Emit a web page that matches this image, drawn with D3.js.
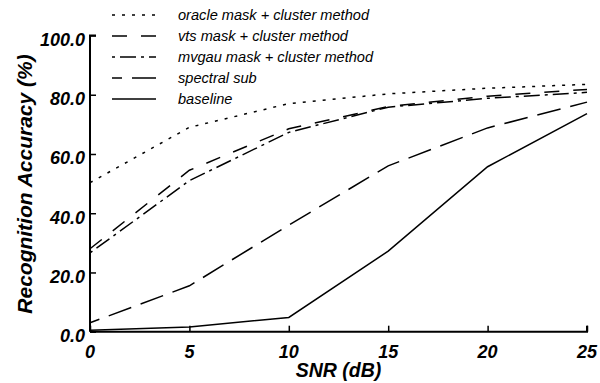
<!DOCTYPE html>
<meta charset="utf-8">
<head>
	<title>Recognition accuracy vs SNR</title>
	<script type="text/javascript" src="https://d3js.org/d3.v7.min.js"></script>
	<style>
		body { margin: 0; background: #fff; }
		.tick-label { font-family: "Liberation Sans", Arial, sans-serif; font-weight: bold; font-style: italic; font-size: 18px; fill: #000; }
		.axis-title { font-family: "Liberation Sans", Arial, sans-serif; font-weight: bold; font-style: italic; font-size: 19.5px; fill: #000; }
		.legend-label { font-family: "Liberation Sans", Arial, sans-serif; font-style: italic; font-size: 14.6px; fill: #000; }
	</style>
</head>
<body>
	<div id="chart"></div>
	<script>
		// data
		var snr = [0, 5, 10, 15, 20, 25];
		var oracle = [50.3, 69.0, 77.0, 80.3, 82.2, 83.5];
		var vts = [28.0, 54.5, 68.5, 76.0, 79.5, 81.8];
		var mvgau = [26.6, 51.0, 67.3, 75.8, 78.8, 80.8];
		var spectral = [3.0, 15.5, 36.0, 56.0, 68.8, 77.5];
		var baseline = [0.5, 1.6, 4.8, 27.2, 55.7, 73.6];
		var seriesNames = ["oracle mask + cluster method", "vts mask + cluster method", "mvgau mask + cluster method", "spectral sub", "baseline"];
		var yTicks = [0, 20, 40, 60, 80, 100];
		var xTicks = [0, 5, 10, 15, 20, 25];

		var width = 600, height = 383;
		var svg = d3.select("#chart").append("svg")
			.attr("width", width).attr("height", height);

		var x = d3.scaleLinear().domain([0, 25]).range([90, 587]);
		var y = d3.scaleLinear().domain([0, 100]).range([331.7, 35.5]);

		var dashes = ["3,7", "15,14", "3,5,16,5", "24,10", null];
		var offsets = [0, 0, 0, 14, 0];
		var series = [oracle, vts, mvgau, spectral, baseline];

		var line = d3.line()
			.x(function (d, i) { return x(snr[i]); })
			.y(function (d) { return y(d); });

		// data lines
		series.forEach(function (s, k) {
			svg.append("path")
				.datum(s)
				.attr("d", line)
				.attr("fill", "none")
				.attr("stroke", "#000")
				.attr("stroke-width", 1.5)
				.attr("stroke-dasharray", dashes[k])
				.attr("stroke-dashoffset", offsets[k]);
		});

		// axes (ticks pointing inward)
		var xAxis = d3.axisTop(x).tickValues(xTicks).tickSize(6).tickFormat("");
		var yAxis = d3.axisRight(y).tickValues(yTicks).tickSize(6).tickFormat("");
		var gx = svg.append("g").attr("transform", "translate(0," + y(0) + ")").call(xAxis);
		var gy = svg.append("g").attr("transform", "translate(" + x(0) + ",0)").call(yAxis);
		[gx, gy].forEach(function (g) {
			g.select(".domain").attr("stroke", "#000").attr("stroke-width", 2);
			g.selectAll(".tick line").attr("stroke", "#000").attr("stroke-width", 1.5);
		});
		gx.select(".domain").attr("d", "M" + x(0) + ",0H" + x(25) + "V-6");
		gy.select(".domain").attr("d", "M6," + y(100) + "H0V" + y(0));

		svg.selectAll(".ylab").data(yTicks).enter().append("text")
			.attr("class", "tick-label")
			.attr("x", 85)
			.attr("y", function (d) { return y(d) + 10.5; })
			.attr("text-anchor", "end")
			.text(function (d) { return d3.format(".1f")(d); });

		svg.selectAll(".xlab").data(xTicks).enter().append("text")
			.attr("class", "tick-label")
			.attr("x", function (d) { return x(d); })
			.attr("y", 358)
			.attr("text-anchor", "middle")
			.text(function (d) { return d; });

		svg.append("text").attr("class", "axis-title")
			.attr("x", (x(0) + x(25)) / 2).attr("y", 377)
			.attr("text-anchor", "middle")
			.text("SNR (dB)");

		svg.append("text").attr("class", "axis-title")
			.attr("transform", "translate(31.5,184) rotate(-90)")
			.attr("text-anchor", "middle")
			.style("font-size", "21px")
			.text("Recognition Accuracy (%)");

		// legend
		var legend = svg.append("g");
		seriesNames.forEach(function (name, k) {
			var ly = 15 + k * 21;
			legend.append("line")
				.attr("x1", 112).attr("x2", 156)
				.attr("y1", ly).attr("y2", ly)
				.attr("stroke", "#000")
				.attr("stroke-width", 1.5)
				.attr("stroke-dasharray", dashes[k])
				.attr("stroke-dashoffset", offsets[k]);
			legend.append("text")
				.attr("class", "legend-label")
				.attr("x", 178).attr("y", ly + 5)
				.text(name);
		});
	</script>
</body>
</html>
